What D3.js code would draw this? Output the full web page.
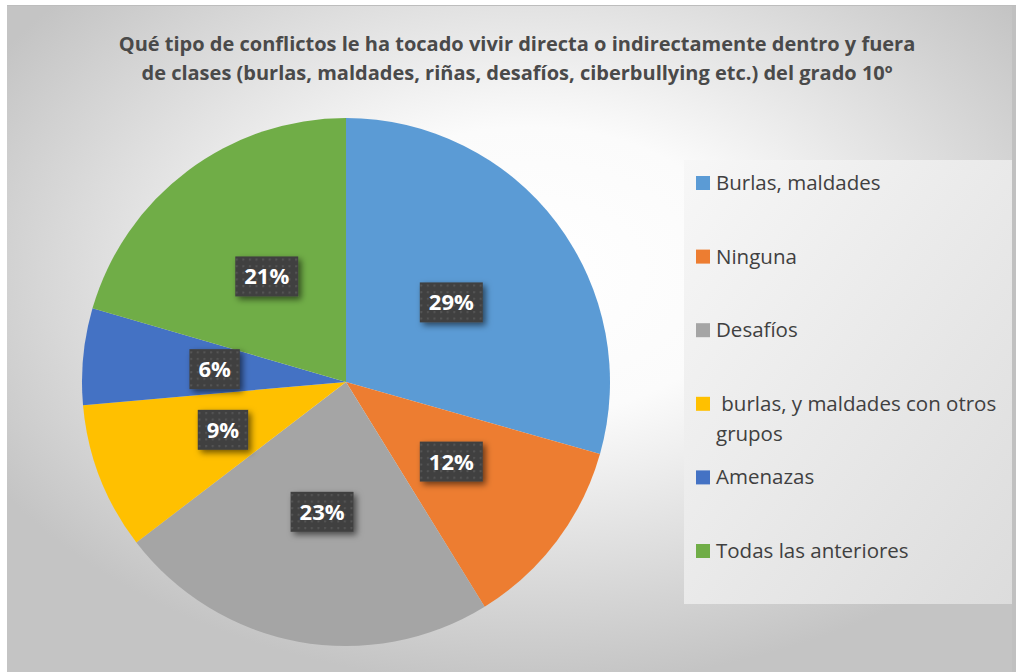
<!DOCTYPE html>
<html>
<head>
<meta charset="utf-8">
<script src="https://cdn.jsdelivr.net/npm/d3@7"></script>
<style>
  body { margin: 0; background: #fff; }
  text { font-family: "Open Sans", Lato, sans-serif; }
</style>
</head>
<body>
<svg id="chart" width="1016" height="672"></svg>
<script>
var categories = ["Burlas, maldades", "Ninguna", "Desafíos", " burlas, y maldades con otros grupos", "Amenazas", "Todas las anteriores"];
var values = [29.4, 11.8, 23.4, 9.0, 5.9, 20.5];
var labels = ["29%", "12%", "23%", "9%", "6%", "21%"];
var colors = ["#5B9BD5", "#ED7D31", "#A5A5A5", "#FFC000", "#4472C4", "#70AD47"];
var titleLines = ["Qué tipo de conflictos le ha tocado vivir directa o indirectamente dentro y fuera",
  "de clases (burlas, maldades, riñas, desafíos, ciberbullying etc.) del grado 10º"];
var legendLines = [["Burlas, maldades"], ["Ninguna"], ["Desafíos"], [" burlas, y maldades con otros", "grupos"], ["Amenazas"], ["Todas las anteriores"]];

var svg = d3.select("#chart");
var defs = svg.append("defs");

var bg = defs.append("radialGradient").attr("id", "bg").attr("cx", "52%").attr("cy", "40%").attr("r", "62%");
bg.append("stop").attr("offset", "0").attr("stop-color", "#ffffff");
bg.append("stop").attr("offset", "0.35").attr("stop-color", "#fbfbfb");
bg.append("stop").attr("offset", "1").attr("stop-color", "#c4c4c4");

var lg = defs.append("linearGradient").attr("id", "lg").attr("x1", "0").attr("y1", "0").attr("x2", "1").attr("y2", "1");
lg.append("stop").attr("offset", "0").attr("stop-color", "#f7f7f7");
lg.append("stop").attr("offset", "1").attr("stop-color", "#dcdcdc");

var pat = defs.append("pattern").attr("id", "dots").attr("width", 6.6).attr("height", 6.6)
  .attr("patternUnits", "userSpaceOnUse");
pat.append("rect").attr("width", 6.6).attr("height", 6.6).attr("fill", "#404040");
pat.append("rect").attr("x", 2).attr("y", 2).attr("width", 2).attr("height", 2).attr("fill", "#555555");

var sh = defs.append("filter").attr("id", "shadow").attr("x", "-30%").attr("y", "-30%").attr("width", "170%").attr("height", "170%");
sh.append("feDropShadow").attr("dx", 3).attr("dy", 3).attr("stdDeviation", 3)
  .attr("flood-color", "#000").attr("flood-opacity", 0.55);

// chart area
svg.append("rect").attr("x", 7).attr("y", 5).attr("width", 1005).attr("height", 667)
  .attr("fill", "url(#bg)");
svg.append("rect").attr("x", 1012).attr("y", 5).attr("width", 4).attr("height", 667).attr("fill", "#c0c0c0");
svg.append("rect").attr("x", 7).attr("y", 5).attr("width", 1009).attr("height", 1).attr("fill", "#bdbdbd");

// title
svg.append("g").selectAll("text").data(titleLines).enter().append("text")
  .attr("x", 517).attr("y", function(d, i) { return 51 + i * 29; })
  .attr("text-anchor", "middle").attr("font-size", 20).attr("font-weight", "bold")
  .attr("fill", "#4a4a4a").text(function(d) { return d; });

// pie
var cx = 346, cy = 382, r = 264;
var pie = d3.pie().sort(null).value(function(d) { return d; });
var arc = d3.arc().innerRadius(0).outerRadius(r);
var arcs = pie(values);

var g = svg.append("g").attr("transform", "translate(" + cx + "," + cy + ")");
g.selectAll("path").data(arcs).enter().append("path")
  .attr("d", arc).attr("fill", function(d, i) { return colors[i]; });

var lab = g.selectAll("g.lab").data(arcs).enter().append("g").attr("class", "lab")
  .attr("transform", function(d) { return "translate(" + arc.centroid(d) + ")"; });
lab.each(function(d, i) {
  var el = d3.select(this);
  var t = el.append("text").attr("text-anchor", "middle").attr("dy", "0.36em")
    .attr("font-size", 22).attr("font-weight", "bold").attr("fill", "#fff").text(labels[i]);
  var w = t.node().getComputedTextLength() + 18;
  el.insert("rect", "text").attr("x", -w / 2).attr("y", -20).attr("width", w).attr("height", 40)
    .attr("fill", "url(#dots)").attr("filter", "url(#shadow)");
});

// legend
svg.append("rect").attr("x", 684).attr("y", 160).attr("width", 328).attr("height", 444).attr("fill", "url(#lg)");
var leg = svg.append("g").selectAll("g").data(categories).enter().append("g")
  .attr("transform", function(d, i) { return "translate(696," + (183 + i * 73.6) + ")"; });
leg.append("rect").attr("x", 0).attr("y", -7).attr("width", 14).attr("height", 14)
  .attr("fill", function(d, i) { return colors[i]; });
leg.append("text").attr("font-size", 20.5).attr("fill", "#404040")
  .attr("xml:space", "preserve")
  .each(function(d, i) {
    var t = d3.select(this);
    legendLines[i].forEach(function(line, j) {
      t.append("tspan").attr("x", 20).attr("y", 7 + j * 30).text(line);
    });
  });
</script>
</body>
</html>
